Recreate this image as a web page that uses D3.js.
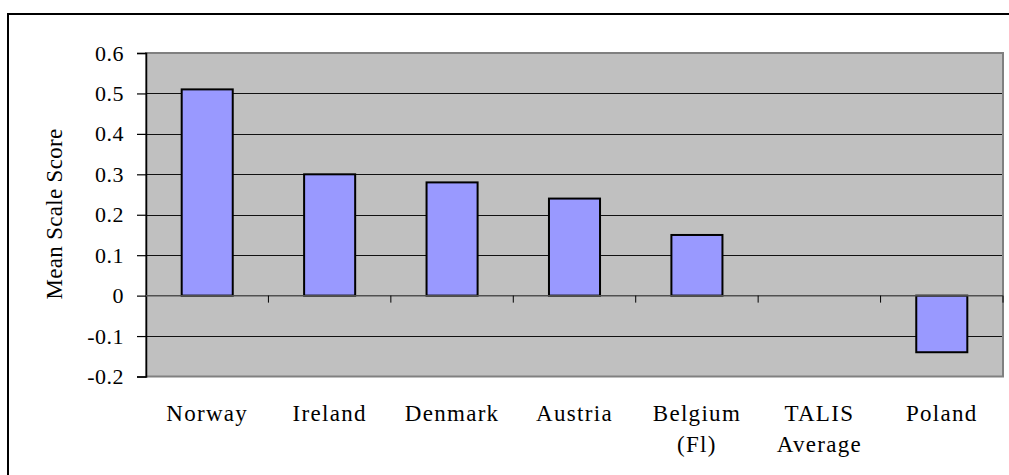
<!DOCTYPE html>
<html>
  <style>
    body { margin: 0; background: #fff; }
    text { font-family: "Liberation Serif", "Times New Roman", serif; fill: #000; }
  </style>
  <body>
    <div id="chart"></div>
  </body>
  <script src="https://d3js.org/d3.v7.min.js"></script>
  <script>
    // Categories (second line after "|") and values
    const CATEGORIES = ['Norway', 'Ireland', 'Denmark', 'Austria', 'Belgium|(Fl)', 'TALIS|Average', 'Poland'];
    const VALUES = [0.51, 0.30, 0.28, 0.24, 0.15, 0, -0.14];
    const Y_TICKS = [0.6, 0.5, 0.4, 0.3, 0.2, 0.1, 0, -0.1, -0.2];

    var WIDTH = 1009, HEIGHT = 475;
    var PLOT_LEFT = 146, PLOT_RIGHT = 1003, PLOT_TOP = 53, PLOT_BOTTOM = 376.5;

    var svg = d3.select('#chart').append('svg')
      .attr('width', WIDTH)
      .attr('height', HEIGHT);

    // outer frame (runs off the right and bottom edges)
    svg.append('rect')
      .attr('x', 8).attr('y', 14)
      .attr('width', 1010).attr('height', 480)
      .attr('fill', 'none')
      .attr('stroke', '#000')
      .attr('stroke-width', 2);

    var x = d3.scaleBand()
      .domain(CATEGORIES)
      .range([PLOT_LEFT, PLOT_RIGHT])
      .paddingInner(0.583)
      .paddingOuter(0.2915);

    var y = d3.scaleLinear().domain([-0.2, 0.6]).range([PLOT_BOTTOM, PLOT_TOP]);

    // plot background
    svg.append('rect')
      .attr('x', PLOT_LEFT).attr('y', PLOT_TOP)
      .attr('width', PLOT_RIGHT - PLOT_LEFT).attr('height', PLOT_BOTTOM - PLOT_TOP)
      .attr('fill', '#c0c0c0')
      .attr('stroke', '#808080')
      .attr('stroke-width', 2);

    // gridlines
    svg.append('g').selectAll('line')
      .data(Y_TICKS.filter(function (d) { return d !== 0.6 && d !== -0.2 && d !== 0; }))
      .enter().append('line')
      .attr('x1', PLOT_LEFT).attr('x2', PLOT_RIGHT - 1)
      .attr('y1', function (d) { return Math.round(y(d)) + 0.5; })
      .attr('y2', function (d) { return Math.round(y(d)) + 0.5; })
      .attr('stroke', '#111')
      .attr('stroke-width', 1.2);

    // y axis
    var yAxis = svg.append('g')
      .attr('transform', 'translate(' + PLOT_LEFT + ',0)')
      .call(d3.axisLeft(y).tickValues(Y_TICKS).tickSize(9).tickPadding(13)
        .tickFormat(function (d) { return d === 0 ? '0' : String(d); }));
    yAxis.select('.domain').attr('stroke', '#000').attr('stroke-width', 1.5);
    yAxis.selectAll('.tick line').attr('stroke', '#000').attr('stroke-width', 1.2);
    yAxis.selectAll('.tick text')
      .style('font-family', '"Liberation Serif", serif')
      .style('font-size', '22px')
      .style('letter-spacing', '0.5px')
      .attr('fill', '#000');

    // y axis title
    svg.append('text')
      .attr('transform', 'translate(62,214) rotate(-90)')
      .attr('text-anchor', 'middle')
      .style('font-size', '23px')
      .style('letter-spacing', '0.3px')
      .text('Mean Scale Score');

    // bars
    svg.append('g').selectAll('rect')
      .data(VALUES)
      .enter().append('rect')
      .attr('x', function (d, i) { return x(CATEGORIES[i]); })
      .attr('y', function (d) { return y(Math.max(0, d)); })
      .attr('width', x.bandwidth())
      .attr('height', function (d) { return Math.abs(y(d) - y(0)); })
      .attr('fill', '#9999ff')
      .attr('stroke', function (d) { return d === 0 ? 'none' : '#000'; })
      .attr('stroke-width', 2);

    // zero line with category ticks
    svg.append('line')
      .attr('x1', PLOT_LEFT).attr('x2', PLOT_RIGHT)
      .attr('y1', y(0)).attr('y2', y(0))
      .attr('stroke', '#505050')
      .attr('stroke-width', 1.5);

    var step = x.step();
    svg.append('g').selectAll('line')
      .data(d3.range(1, CATEGORIES.length + 1))
      .enter().append('line')
      .attr('x1', function (k) { return PLOT_LEFT + k * step; })
      .attr('x2', function (k) { return PLOT_LEFT + k * step; })
      .attr('y1', y(0)).attr('y2', y(0) + 7)
      .attr('stroke', '#000')
      .attr('stroke-width', 1);

    // category labels
    var labels = svg.append('g').selectAll('text')
      .data(CATEGORIES)
      .enter().append('text')
      .attr('text-anchor', 'middle')
      .attr('y', 421)
      .style('font-size', '23px')
      .style('letter-spacing', '1.3px');
    labels.each(function (d) {
      var parts = d.split('|');
      var t = d3.select(this);
      var cx = x(d) + x.bandwidth() / 2;
      parts.forEach(function (p, j) {
        t.append('tspan').attr('x', cx).attr('y', 421 + j * 31).text(p);
      });
    });
  </script>
</html>
